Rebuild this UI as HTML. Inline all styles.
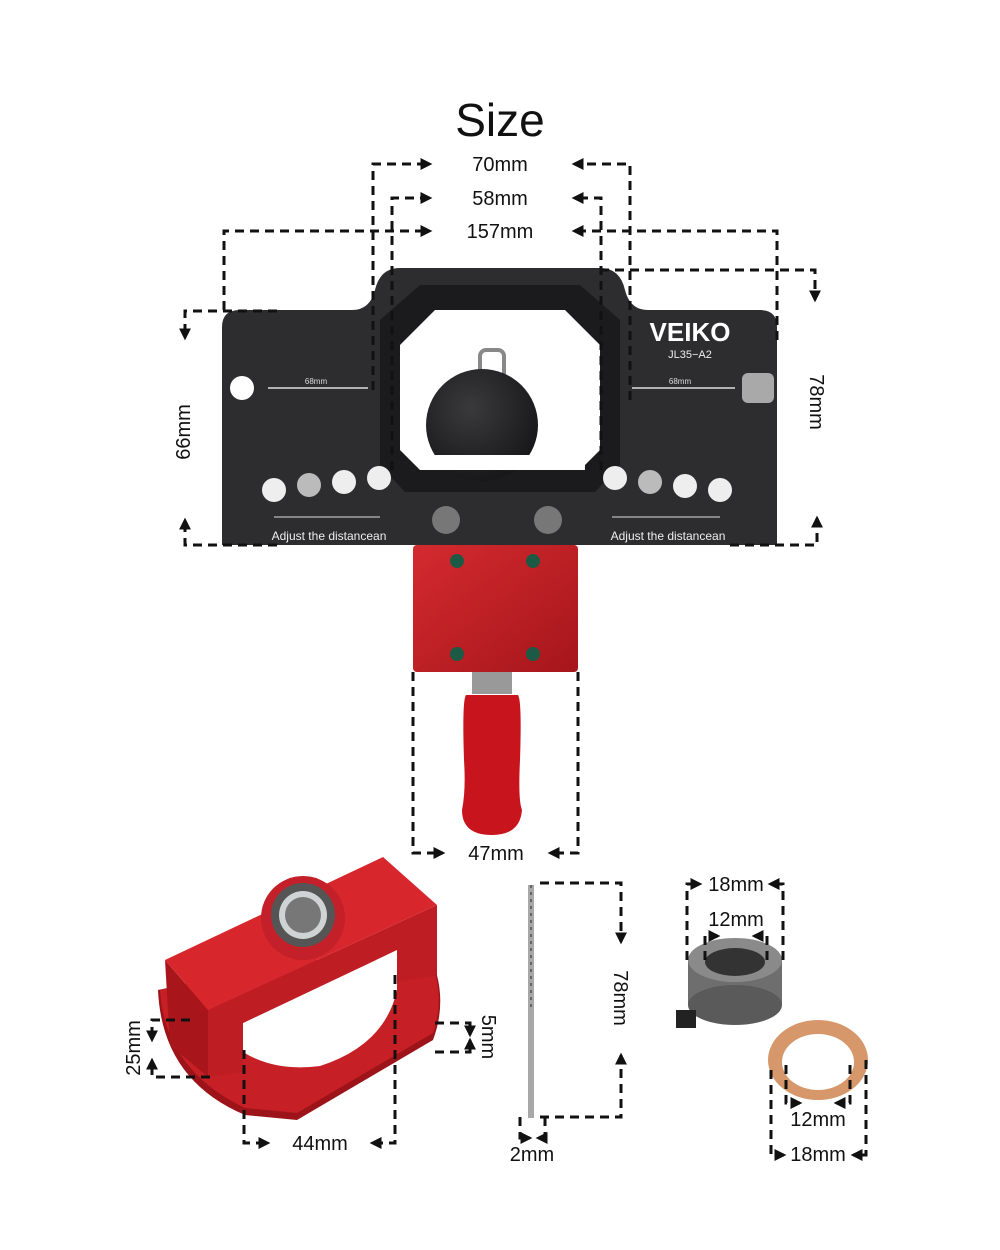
<!DOCTYPE html>
<html><head><style>
html,body{margin:0;padding:0;background:#fff;}
svg{display:block}
text{font-family:"Liberation Sans",sans-serif;fill:#111}
</style></head><body>
<svg width="1000" height="1250" viewBox="0 0 1000 1250">
<defs>
<marker id="a" viewBox="0 0 10 10" refX="8" refY="5" markerWidth="4" markerHeight="4" orient="auto"><path d="M0,0L10,5L0,10z" fill="#111"/></marker>
<linearGradient id="red" x1="0" y1="0" x2="1" y2="1"><stop offset="0" stop-color="#d42a2f"/><stop offset="1" stop-color="#a5161b"/></linearGradient>
<radialGradient id="knob" cx="0.4" cy="0.35" r="0.7"><stop offset="0" stop-color="#3a3a3c"/><stop offset="1" stop-color="#161618"/></radialGradient>
</defs>
<text x="500" y="136" font-size="46" text-anchor="middle">Size</text>
<text x="500" y="171" font-size="20" text-anchor="middle">70mm</text>
<text x="500" y="205" font-size="20" text-anchor="middle">58mm</text>
<text x="500" y="238" font-size="20" text-anchor="middle">157mm</text>

<!-- black plate -->
<path d="M240,310 H352 Q370,310 375,290 Q380,268 400,268 H600 Q620,268 625,290 Q630,310 648,310 H760 Q777,310 777,327 V545 H222 V327 Q222,310 240,310Z" fill="#2d2d2f"/>
<path d="M420,285 H580 L620,320 V465 L595,492 H405 L380,465 V320Z" fill="#1b1b1d"/>
<path d="M435,310 H565 L600,345 V450 L580,470 H420 L400,450 V345Z" fill="#fff"/>
<rect x="480" y="350" width="24" height="40" rx="6" fill="none" stroke="#888" stroke-width="4"/>
<circle cx="482" cy="425" r="56" fill="url(#knob)"/>
<rect x="420" y="455" width="165" height="15" fill="#fff"/>
<text x="690" y="341" font-size="26" font-weight="bold" style="fill:#fff" text-anchor="middle">VEIKO</text>
<text x="690" y="358" font-size="11" font-family="Liberation Serif" style="fill:#eee" text-anchor="middle">JL35−A2</text>
<circle cx="242" cy="388" r="12" fill="#fff"/>
<rect x="742" y="373" width="32" height="30" rx="6" fill="#a9a9a9"/>
<line x1="268" y1="388" x2="368" y2="388" stroke="#ddd" stroke-width="1.5"/>
<line x1="632" y1="388" x2="735" y2="388" stroke="#ddd" stroke-width="1.5"/>
<text x="316" y="384" font-size="8" style="fill:#ddd" text-anchor="middle">68mm</text>
<text x="680" y="384" font-size="8" style="fill:#ddd" text-anchor="middle">68mm</text>
<g fill="#eee"><circle cx="274" cy="490" r="12"/><circle cx="309" cy="485" r="12" fill="#bbb"/><circle cx="344" cy="482" r="12"/><circle cx="379" cy="478" r="12"/>
<circle cx="615" cy="478" r="12"/><circle cx="650" cy="482" r="12" fill="#bbb"/><circle cx="685" cy="486" r="12"/><circle cx="720" cy="490" r="12"/></g>
<text x="329" y="540" font-size="12" font-family="Liberation Mono" style="fill:#eee" text-anchor="middle">Adjust the distancean</text>
<text x="668" y="540" font-size="12" font-family="Liberation Mono" style="fill:#eee" text-anchor="middle">Adjust the distancean</text>
<line x1="274" y1="517" x2="380" y2="517" stroke="#ddd"/><line x1="612" y1="517" x2="720" y2="517" stroke="#ddd"/>
<circle cx="446" cy="520" r="14" fill="#777"/><circle cx="548" cy="520" r="14" fill="#777"/>

<!-- red block & handle -->
<rect x="413" y="545" width="165" height="127" rx="4" fill="url(#red)"/>
<g fill="#1d5a45"><circle cx="457" cy="561" r="7"/><circle cx="533" cy="561" r="7"/><circle cx="457" cy="654" r="7"/><circle cx="533" cy="654" r="7"/></g>
<rect x="472" y="672" width="40" height="22" fill="#999"/>
<path d="M466,695 H518 Q522,700 520,760 Q518,800 522,810 Q520,835 492,835 Q462,835 462,810 Q466,790 464,760 Q462,700 466,695Z" fill="#c8141d"/>

<!-- dims top -->
<g fill="none" stroke="#111" stroke-width="3" stroke-dasharray="9,6">
<path d="M373,390 V164 H430" marker-end="url(#a)"/>
<path d="M630,400 V164 H574" marker-end="url(#a)"/>
<path d="M392,470 V198 H430" marker-end="url(#a)"/>
<path d="M601,470 V198 H574" marker-end="url(#a)"/>
<path d="M224,310 V231 H430" marker-end="url(#a)"/>
<path d="M777,340 V231 H574" marker-end="url(#a)"/>
<path d="M277,311 H185 V338" marker-end="url(#a)"/>
<path d="M277,545 H185 V520" marker-end="url(#a)"/>
<path d="M600,270 H815 V300" marker-end="url(#a)"/>
<path d="M730,545 H817 V518" marker-end="url(#a)"/>
<path d="M413,672 V853 H443" marker-end="url(#a)"/>
<path d="M578,672 V853 H550" marker-end="url(#a)"/>
</g>
<text x="190" y="432" font-size="20" text-anchor="middle" transform="rotate(-90 190 432)">66mm</text>
<text x="810" y="402" font-size="20" text-anchor="middle" transform="rotate(90 810 402)">78mm</text>
<text x="496" y="860" font-size="20" text-anchor="middle">47mm</text>

<!-- bottom-left jig -->
<path d="M158,990 Q162,1080 245,1115 L297,1120 L433,1040 Q448,1000 432,960 L300,960Z" fill="#9c1419"/>
<path d="M160,990 Q165,1070 245,1108 L297,1113 L433,1033 Q445,1000 432,962 L300,962Z" fill="#c61f25"/>
<path d="M243,1023 L397,950 L397,990 Q385,1045 320,1066 Q275,1072 243,1052 Z" fill="#fff"/>
<path d="M165,960 L208,1010 L208,1077 L170,1045 Z" fill="#a8161c"/>
<path d="M208,1010 L437,905 L437,975 L397,982 L397,950 L243,1023 L243,1072 L208,1077 Z" fill="#be1d23"/>
<path d="M165,960 L383,857 L437,905 L208,1010 Z" fill="#d7272d"/>
<circle cx="303" cy="918" r="42" fill="#c3202a"/>
<circle cx="303" cy="915" r="32" fill="#555"/><circle cx="303" cy="915" r="24" fill="#cfd3d3"/><circle cx="303" cy="915" r="18" fill="#777"/>
<g fill="none" stroke="#111" stroke-width="3" stroke-dasharray="9,6">
<path d="M190,1020 H152 V1040" marker-end="url(#a)"/>
<path d="M210,1077 H152 V1060" marker-end="url(#a)"/>
<path d="M435,1023 H470 V1035" marker-end="url(#a)"/>
<path d="M435,1052 H470 V1040" marker-end="url(#a)"/>
<path d="M244,1050 V1143 H268" marker-end="url(#a)"/>
<path d="M395,975 V1143 H372" marker-end="url(#a)"/>
</g>
<text x="140" y="1048" font-size="20" text-anchor="middle" transform="rotate(-90 140 1048)">25mm</text>
<text x="482" y="1037" font-size="20" text-anchor="middle" transform="rotate(90 482 1037)">5mm</text>
<text x="320" y="1150" font-size="20" text-anchor="middle">44mm</text>

<!-- drill bit -->
<rect x="528" y="885" width="6" height="233" fill="#a8a8a8"/>
<line x1="531" y1="885" x2="531" y2="1010" stroke="#666" stroke-width="2" stroke-dasharray="3,4"/>
<g fill="none" stroke="#111" stroke-width="3" stroke-dasharray="9,6">
<path d="M540,883 H621 V942" marker-end="url(#a)"/>
<path d="M540,1117 H621 V1055" marker-end="url(#a)"/>
<path d="M520,1117 V1138 H530" marker-end="url(#a)"/>
<path d="M545,1117 V1138 H538" marker-end="url(#a)"/>
</g>
<text x="614" y="998" font-size="20" text-anchor="middle" transform="rotate(90 614 998)">78mm</text>
<text x="532" y="1161" font-size="20" text-anchor="middle">2mm</text>

<!-- collar -->
<rect x="688" y="960" width="94" height="45" fill="#6e6e6e"/>
<ellipse cx="735" cy="1005" rx="47" ry="20" fill="#5a5a5a"/>
<ellipse cx="735" cy="960" rx="47" ry="22" fill="#8a8a8a"/>
<ellipse cx="735" cy="962" rx="30" ry="14" fill="#333"/>
<rect x="676" y="1010" width="20" height="18" fill="#222"/>
<!-- washer -->
<ellipse cx="818" cy="1060" rx="50" ry="40" fill="#d6976a"/>
<ellipse cx="818" cy="1062" rx="36" ry="28" fill="#fff"/>
<g fill="none" stroke="#111" stroke-width="3" stroke-dasharray="9,6">
<path d="M687,960 V884 H700" marker-end="url(#a)"/>
<path d="M783,960 V884 H770" marker-end="url(#a)"/>
<path d="M705,960 V936 H718" marker-end="url(#a)"/>
<path d="M767,960 V936 H754" marker-end="url(#a)"/>
<path d="M786,1065 V1103 H800" marker-end="url(#a)"/>
<path d="M850,1065 V1103 H836" marker-end="url(#a)"/>
<path d="M771,1070 V1155 H784" marker-end="url(#a)"/>
<path d="M866,1060 V1155 H853" marker-end="url(#a)"/>
</g>
<text x="736" y="891" font-size="20" text-anchor="middle">18mm</text>
<text x="736" y="926" font-size="20" text-anchor="middle">12mm</text>
<text x="818" y="1126" font-size="20" text-anchor="middle">12mm</text>
<text x="818" y="1161" font-size="20" text-anchor="middle">18mm</text>
</svg>
</body></html>
